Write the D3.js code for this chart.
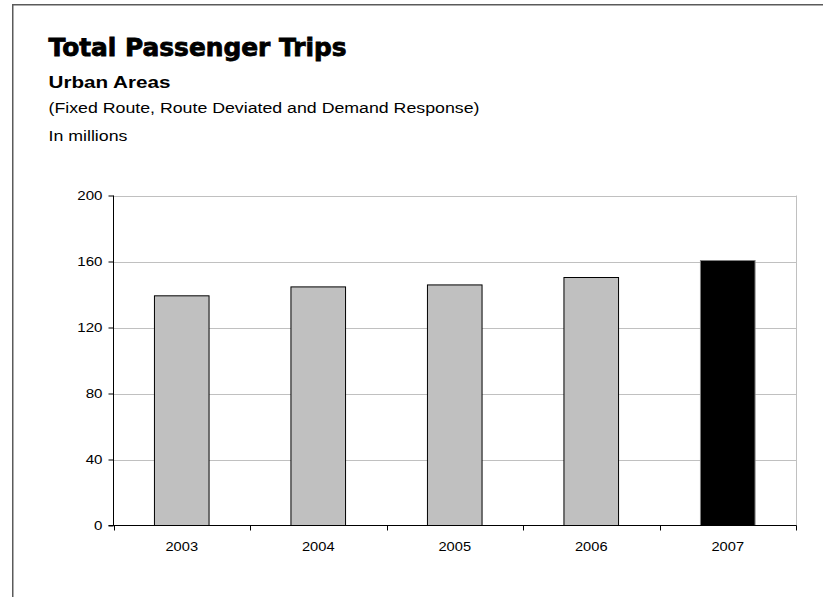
<!DOCTYPE html>
<html>
<head>
<meta charset="utf-8">
<script src="https://cdn.jsdelivr.net/npm/d3@7/dist/d3.min.js"></script>
<style>
  html, body { margin: 0; padding: 0; background: #fff; }
  svg { display: block; }
</style>
</head>
<body>
<svg id="chart" width="823" height="597"></svg>
<script>
// Annual passenger trips, urban areas (millions)
const years = ["2003", "2004", "2005", "2006", "2007"];
const trips = [139.2, 144.6, 145.8, 150.3, 160.6];
const highlightYear = "2007";
const yTicks = [0, 40, 80, 120, 160, 200];

const titleText = "Total Passenger Trips";
const subtitleText = "Urban Areas";
const noteText = "(Fixed Route, Route Deviated and Demand Response)";
const unitText = "In millions";

(function draw() {
  const svg = d3.select("#chart");
  const W = 823, H = 597;
  const FONT = "'Liberation Sans', Arial, sans-serif";
  const STRETCH = 1.2; // text in this layout is set horizontally widened

  // outer frame (only top and left edges fall within the view)
  svg.append("rect")
    .attr("x", 12.75).attr("y", 4.75)
    .attr("width", W + 20).attr("height", H + 20)
    .attr("fill", "none").attr("stroke", "#5a5a5a").attr("stroke-width", 1.5);

  // headings
  svg.append("text")
    .attr("x", 48.5).attr("y", 56)
    .attr("font-family", "'DejaVu Sans', sans-serif")
    .attr("font-weight", 900).attr("font-size", 24)
    .attr("textLength", 298).attr("lengthAdjust", "spacingAndGlyphs")
    .attr("fill", "#000").attr("stroke", "#000").attr("stroke-width", 0.8)
    .text(titleText);

  const heading = (txt, yPos, size, weight) =>
    svg.append("text")
      .attr("transform", `translate(48.5,${yPos}) scale(${STRETCH},1)`)
      .attr("font-family", FONT)
      .attr("font-weight", weight).attr("font-size", size)
      .attr("fill", "#000").text(txt);

  heading(subtitleText, 88.3, 17.2, "bold");
  heading(noteText, 113.3, 14.8, "normal");
  heading(unitText, 140.8, 14.8, "normal");

  // plot area
  const pLeft = 113.5, pRight = 796, pTop = 195.5, pBottom = 525.5;

  const x = d3.scaleBand()
    .domain(years)
    .range([pLeft, pRight])
    .paddingInner(0.6)
    .paddingOuter(0.3);

  const y = d3.scaleLinear()
    .domain([0, 200])
    .range([pBottom, pTop]);

  const g = svg.append("g");

  // gridlines
  g.selectAll("line.grid")
    .data(yTicks.filter(t => t > 0))
    .join("line")
    .attr("class", "grid")
    .attr("x1", pLeft).attr("x2", pRight)
    .attr("y1", d => Math.round(y(d)) + 0.5).attr("y2", d => Math.round(y(d)) + 0.5)
    .attr("stroke", "#c0c0c0").attr("stroke-width", 1);

  // right edge of plot area
  g.append("line")
    .attr("x1", pRight + 0.5).attr("x2", pRight + 0.5)
    .attr("y1", pTop).attr("y2", pBottom)
    .attr("stroke", "#c0c0c0").attr("stroke-width", 1);

  // bars
  const data = years.map((yr, i) => ({ year: yr, value: trips[i] }));
  g.selectAll("rect.bar")
    .data(data)
    .join("rect")
    .attr("class", "bar")
    .attr("x", d => x(d.year))
    .attr("width", x.bandwidth())
    .attr("y", d => y(d.value))
    .attr("height", d => y(0) - y(d.value))
    .attr("fill", d => d.year === highlightYear ? "#000000" : "#c0c0c0")
    .attr("stroke", d => d.year === highlightYear ? "#808080" : "#000000")
    .attr("stroke-width", 1);

  // y axis
  const yAxis = d3.axisLeft(y)
    .tickValues(yTicks)
    .tickSize(5)
    .tickFormat(d3.format("d"));

  const ya = svg.append("g")
    .attr("transform", `translate(${pLeft},0)`)
    .call(yAxis);
  ya.select(".domain").attr("stroke", "#000").attr("d", `M0,${pTop}V${pBottom}`);
  ya.selectAll(".tick line").attr("stroke", "#000");
  ya.selectAll(".tick text")
    .attr("x", 0)
    .attr("transform", `translate(-11,0) scale(${STRETCH},1)`)
    .attr("font-family", FONT)
    .attr("font-size", 12.6).attr("fill", "#000");

  // x axis with ticks at category boundaries
  const bounds = d3.range(years.length + 1).map(i => pLeft + i * x.step());
  const xa = svg.append("g");
  xa.append("line")
    .attr("x1", pLeft - 5).attr("x2", pRight + 0.5)
    .attr("y1", pBottom).attr("y2", pBottom)
    .attr("stroke", "#000").attr("stroke-width", 1);
  xa.selectAll("line.xtick")
    .data(bounds)
    .join("line")
    .attr("class", "xtick")
    .attr("x1", d => Math.round(d) + 0.5).attr("x2", d => Math.round(d) + 0.5)
    .attr("y1", pBottom).attr("y2", pBottom + 5)
    .attr("stroke", "#000");
  xa.selectAll("text")
    .data(years)
    .join("text")
    .attr("transform", d => `translate(${x(d) + x.bandwidth() / 2},550.5) scale(${STRETCH},1)`)
    .attr("text-anchor", "middle")
    .attr("font-family", FONT)
    .attr("font-size", 12.2).attr("fill", "#000")
    .text(d => d);
})();
</script>
</body>
</html>
